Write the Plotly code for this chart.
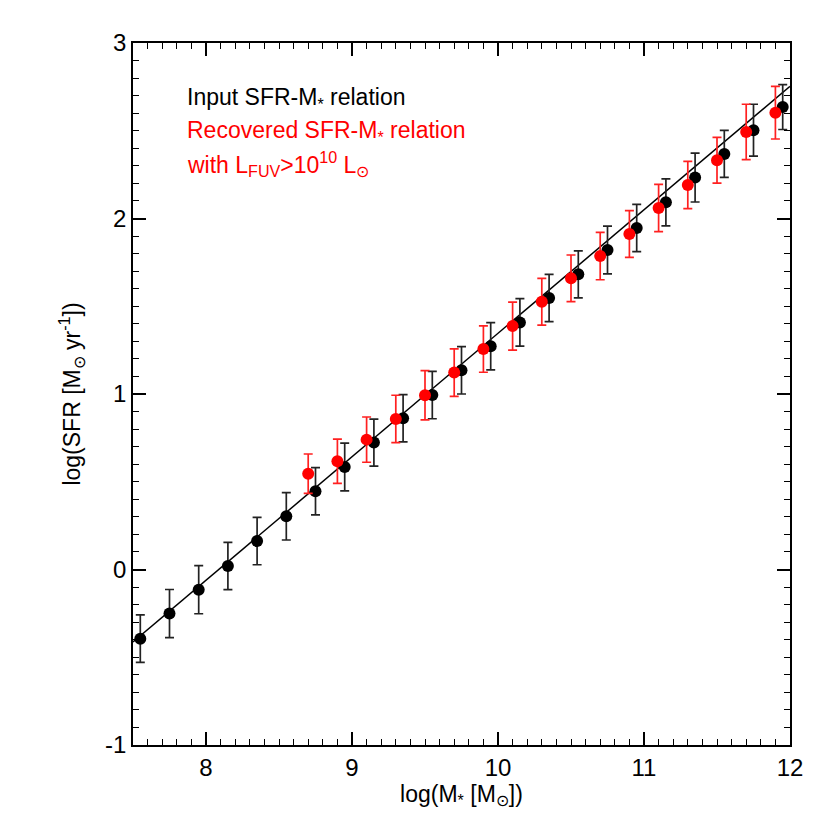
import plotly.graph_objects as go

# Input relation (black)
black_x = [7.55, 7.75, 7.95, 8.15, 8.35, 8.55, 8.75, 8.95, 9.15, 9.35, 9.55, 9.75,
           9.95, 10.15, 10.35, 10.55, 10.75, 10.95, 11.15, 11.35, 11.55, 11.75, 11.95]
black_y = [-0.394, -0.251, -0.115, 0.02, 0.162, 0.303, 0.446, 0.584, 0.723, 0.862, 0.994, 1.135,
           1.272, 1.408, 1.547, 1.682, 1.821, 1.946, 2.092, 2.233, 2.368, 2.503, 2.635]
black_err = [0.135, 0.137, 0.137, 0.135, 0.135, 0.135, 0.135, 0.136, 0.134, 0.135, 0.135, 0.135,
             0.135, 0.135, 0.135, 0.134, 0.136, 0.135, 0.134, 0.139, 0.134, 0.148, 0.128]

# Recovered relation (red)
red_x = [8.7, 8.9, 9.1, 9.3, 9.5, 9.7, 9.9, 10.1, 10.3, 10.5, 10.7, 10.9,
         11.1, 11.3, 11.5, 11.7, 11.9]
red_y = [0.546, 0.617, 0.740, 0.858, 0.993, 1.122, 1.256, 1.387, 1.526, 1.659, 1.786, 1.912,
         2.06, 2.191, 2.332, 2.493, 2.603]
red_err = [0.112, 0.126, 0.129, 0.135, 0.14, 0.135, 0.132, 0.137, 0.133, 0.133, 0.135, 0.133,
           0.135, 0.135, 0.13, 0.158, 0.15]

# Input relation line
line_x = [7.5, 12.0]
line_slope = 0.7036
line_intercept = -5.69

x_ticks = [8, 9, 10, 11, 12]
y_ticks = [-1, 0, 1, 2, 3]

FONT = "Liberation Sans, Arial, Helvetica, sans-serif"

fig = go.Figure()

fig.add_trace(go.Scatter(
    x=line_x, y=[line_slope * v + line_intercept for v in line_x],
    mode="lines", line=dict(color="black", width=1.5), showlegend=False))

fig.add_trace(go.Scatter(
    x=black_x, y=black_y, mode="markers",
    marker=dict(color="black", size=12),
    error_y=dict(type="data", array=black_err, color="#222222", thickness=1.7, width=4.5),
    showlegend=False))

fig.add_trace(go.Scatter(
    x=red_x, y=red_y, mode="markers",
    marker=dict(color="#ff0000", size=12),
    error_y=dict(type="data", array=red_err, color="#ff2020", thickness=1.7, width=4.5),
    showlegend=False))

axis_common = dict(
    ticks="inside", mirror="ticks", showline=True, linecolor="black", linewidth=1.6,
    tickcolor="black", tickwidth=1.5, ticklen=13, showgrid=False, zeroline=False,
    tickfont=dict(family=FONT, size=24, color="black"),
    minor=dict(ticks="inside", ticklen=6, tickcolor="black", tickwidth=1.2, dtick=0.1, showgrid=False),
)

fig.update_xaxes(range=[7.5, 12], tickvals=x_ticks, ticktext=[str(v) for v in x_ticks],
                 title=dict(text="log(M<sub>*</sub> [M<sub>⊙</sub>])",
                            font=dict(family=FONT, size=23, color="black"), standoff=4),
                 **axis_common)
fig.update_yaxes(range=[-1, 3], tickvals=y_ticks, ticktext=[str(v) for v in y_ticks],
                 title=dict(text="log(SFR [M<sub>⊙</sub> yr<sup>-1</sup>])",
                            font=dict(family=FONT, size=23, color="black"), standoff=18),
                 **axis_common)

ann_font = 23
fig.add_annotation(x=7.856, y=2.685, xref="x", yref="y", xanchor="left", yanchor="middle",
                   text="Input SFR-M<sub>*</sub> relation", showarrow=False,
                   font=dict(family=FONT, size=ann_font, color="black"))
fig.add_annotation(x=7.856, y=2.497, xref="x", yref="y", xanchor="left", yanchor="middle",
                   text="Recovered SFR-M<sub>*</sub> relation", showarrow=False,
                   font=dict(family=FONT, size=ann_font, color="#ff0000"))
fig.add_annotation(x=7.856, y=2.31, xref="x", yref="y", xanchor="left", yanchor="middle",
                   text="with L<sub>FUV</sub>>10<sup>10</sup> L<sub>⊙</sub>", showarrow=False,
                   font=dict(family=FONT, size=ann_font, color="#ff0000"))

fig.update_layout(
    width=830, height=830,
    margin=dict(l=125, r=48, t=35, b=93),
    paper_bgcolor="white", plot_bgcolor="white",
    font=dict(family=FONT, color="black"),
)

fig.write_html("out.html")
